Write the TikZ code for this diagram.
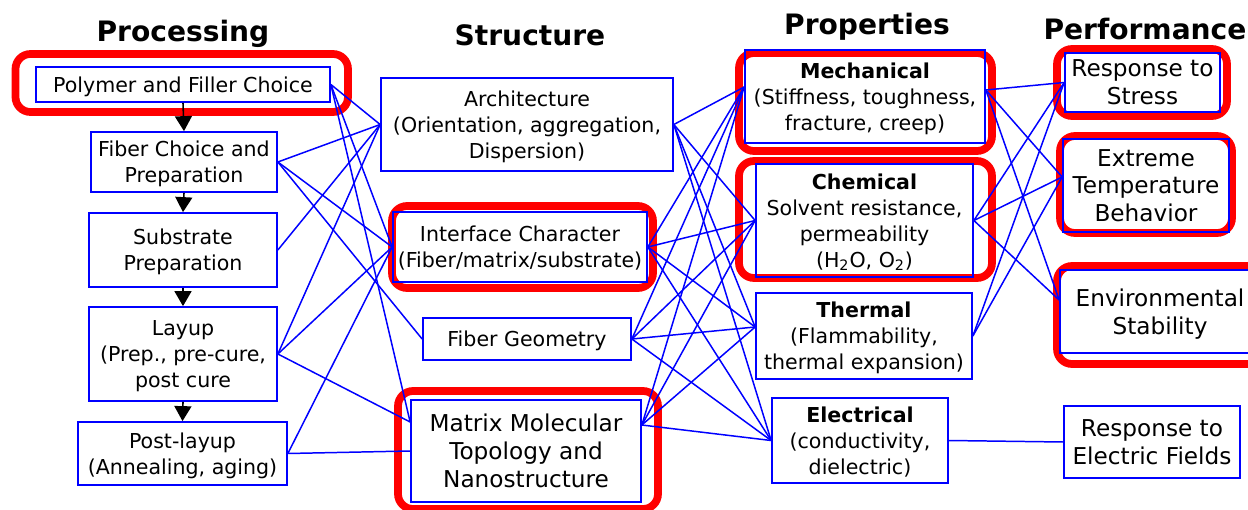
\documentclass[tikz,border=0pt]{standalone}
\usepackage{fontspec}
\setmainfont{DejaVu Sans}
\usetikzlibrary{arrows.meta,positioning}
\tikzset{
  box/.style={draw=blue,line width=1pt,align=center,inner sep=1pt,text depth=0pt,
    font=\fontsize{11.7}{14.8}\selectfont},
  bigbox/.style={box,font=\fontsize{13.2}{15.9}\selectfont},
  low/.style={text depth=-4pt},
  frame/.style={draw=red,line width=4.4pt,rounded corners=0.3cm},
  link/.style={blue,line width=0.85pt},
  flow/.style={black,line width=0.9pt,-{Triangle[width=0.34cm,length=0.3cm]}},
  title/.style={font=\fontsize{16}{19}\selectfont\bfseries},
}
\begin{document}
\begin{tikzpicture}[x=0.02cm,y=-0.02cm]
  \useasboundingbox (0,0) rectangle (1248,510);
  \node[title] (tProc) at (183,34) {Processing};
  \node[title] (tStru) at (530,35) {Structure};
  \node[title] (tProp) at (867,27) {Properties};
  \node[title] (tPerf) at (1145,29) {Performance};
  \draw[frame] (15.5,54) rectangle (348,112);
  \draw[frame] (392,206) rectangle (653,288);
  \draw[frame] (398,391) rectangle (658,509);
  \draw[frame] (739,53) rectangle (992,151);
  \draw[frame] (739,161) rectangle (992,278);
  \draw[frame] (1057,49) rectangle (1227,116);
  \draw[frame] (1060,136) rectangle (1232,233);
  \draw[frame] (1057,266) rectangle (1275,364);
  \node[box,minimum width=5.88cm,minimum height=0.70cm] (P1) at (183,84.5) {Polymer and Filler Choice};
  \node[box,minimum width=3.72cm,minimum height=1.20cm] (P2) at (184,162) {Fiber Choice and\\Preparation};
  \node[box,minimum width=3.76cm,minimum height=1.48cm] (P3) at (183,250) {Substrate\\Preparation};
  \node[box,minimum width=3.76cm,minimum height=1.88cm] (P4) at (183,354) {Layup\\(Prep., pre-cure,\\post cure};
  \node[box,minimum width=4.18cm,minimum height=1.26cm] (P5) at (182.5,453.5) {Post-layup\\(Annealing, aging)};
  \node[box,low,minimum width=5.84cm,minimum height=1.86cm] (S1) at (527,124.5) {Architecture\\(Orientation, aggregation,\\Dispersion)};
  \node[box,minimum width=5.08cm,minimum height=1.40cm] (S2) at (520,247) {Interface Character\\(Fiber/matrix/substrate)};
  \node[box,minimum width=4.16cm,minimum height=0.84cm] (S3) at (527,339) {Fiber Geometry};
  \node[bigbox,minimum width=4.60cm,minimum height=2.04cm] (S4) at (526,451) {Matrix Molecular\\Topology and\\Nanostructure};
  \node[box,low,minimum width=4.80cm,minimum height=1.86cm] (Pr1) at (865,96.5) {\textbf{Mechanical}\\(Stiffness, toughness,\\fracture, creep)};
  \node[box,minimum width=4.34cm,minimum height=2.26cm] (Pr2) at (864.5,220.5) {\textbf{Chemical}\\Solvent resistance,\\permeability\\(H\textsubscript{2}O, O\textsubscript{2})};
  \node[box,minimum width=4.32cm,minimum height=1.72cm] (Pr3) at (864,336) {\textbf{Thermal}\\(Flammability,\\thermal expansion)};
  \node[box,minimum width=3.52cm,minimum height=1.70cm] (Pr4) at (860,440.5) {\textbf{Electrical}\\(conductivity,\\dielectric)};
  \node[bigbox,minimum width=3.10cm,minimum height=1.18cm] (Pe1) at (1142.5,82.5) {Response to\\Stress};
  \node[bigbox,minimum width=3.32cm,minimum height=1.86cm] (Pe2) at (1146,185.5) {Extreme\\Temperature\\Behavior};
  \node[bigbox,minimum width=4.00cm,minimum height=1.66cm] (Pe3) at (1160,311.5) {Environmental\\Stability};
  \node[bigbox,minimum width=3.52cm,minimum height=1.44cm] (Pe4) at (1152,442) {Response to\\Electric Fields};
  \foreach \i/\j in {1/2,2/3,3/4,4/5}
    \draw[flow] (P\i.south) -- (P\j.north);
  \coordinate (S4a) at ([yshift=0.58cm]S4.west);
  \coordinate (S4b) at ([yshift=0.52cm]S4.east);
  \coordinate (Pr1a) at ([yshift=0.19cm]Pr1.west);
  \coordinate (Pr3a) at ([yshift=0.18cm]Pr3.west);
  \coordinate (Pr1b) at ([yshift=0.13cm]Pr1.east);
  \coordinate (Pe2a) at ([yshift=0.17cm]Pe2.west);
  \coordinate (Pe3a) at ([yshift=0.23cm]Pe3.west);
  \foreach \a/\b in {P1/S1,P1/S2,P2/S1,P2/S2,P2/S3,P3/S1,P4/S1,P4/S2,P5/S2,P5/S4}
    \draw[link] (\a.east) -- (\b.west);
  \foreach \a in {P1,P4}
    \draw[link] (\a.east) -- (S4a);
  \foreach \a in {S1.east,S2.east,S3.east,S4b}
    \foreach \b in {Pr1a,Pr2.west,Pr3a,Pr4.west}
      \draw[link] (\a) -- (\b);
  \foreach \a/\b in {Pr1b/Pe1.west,Pr1b/Pe2a,Pr1b/Pe3a,Pr2.east/Pe1.west,Pr2.east/Pe2a,
      Pr2.east/Pe3a,Pr3.east/Pe1.west,Pr3.east/Pe2a,Pr4.east/Pe4.west}
    \draw[link] (\a) -- (\b);
\end{tikzpicture}
\end{document}
